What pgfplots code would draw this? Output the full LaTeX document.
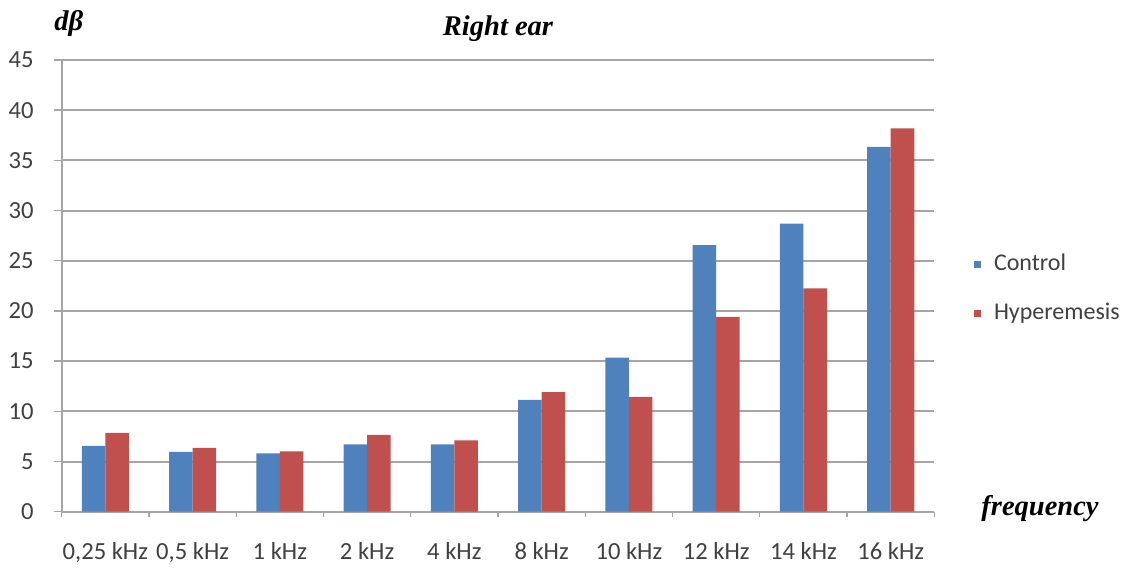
\documentclass[border=0pt]{standalone}
\usepackage{fontspec}
\setmainfont{Carlito}
\newfontfamily\titlefont{Liberation Serif}
\usepackage{pgfplots}
\pgfplotsset{compat=1.18}

\definecolor{ctrl}{RGB}{79,129,189}
\definecolor{hyper}{RGB}{192,80,77}
\definecolor{gridgray}{RGB}{165,165,165}
\definecolor{labgray}{RGB}{64,64,64}

\newcommand{\headfont}{\titlefont\bfseries\itshape\fontsize{14.25bp}{17bp}\selectfont}

\begin{document}
\begin{tikzpicture}
\useasboundingbox (-30.85bp,-28.65bp) rectangle (534.65bp,255.85bp);
\begin{axis}[
  at={(0,0)}, anchor=south west,
  scale only axis, width=436.3bp, height=225.85bp,
  ybar, bar width=0.27,
  ymin=0, ymax=45, ytick={0,5,...,45},
  xmin=-0.5, xmax=9.5,
  xtick={0,...,9},
  xticklabels={{0,25 kHz},{0,5 kHz},1 kHz,2 kHz,4 kHz,8 kHz,10 kHz,12 kHz,14 kHz,16 kHz},
  minor xtick={-0.5,0.5,...,9.5},
  axis x line*=bottom, axis y line*=left,
  axis line style={gridgray, line width=1bp},
  ymajorgrids, major grid style={gridgray, line width=1bp},
  tick align=outside,
  major tick length=4bp, minor tick length=2.5bp,
  tick style={gridgray, line width=0.7bp},
  major x tick style={draw=none},
  /pgf/number format/assume math mode=true,
  ticklabel style={font=\fontsize{12.3bp}{14bp}\selectfont, text=labgray, inner sep=0pt},
  xticklabel style={anchor=base, yshift=-20bp},
  yticklabel style={anchor=east, xshift=-9.85bp},
  title={Right ear},
  title style={font=\headfont, at={(0.5,1)}, anchor=base, yshift=6.5bp, inner sep=0pt},
  ylabel={dβ},
  ylabel style={font=\headfont, at={(axis description cs:0,1)}, rotate=-90, anchor=base, xshift=3.5bp, yshift=14.5bp, inner sep=0pt},
  xlabel={frequency},
  xlabel style={font=\headfont, at={(axis description cs:1,0)}, anchor=base, xshift=52.85bp, yshift=-1.65bp, inner sep=0pt},
  legend image code/.code={\fill[#1,draw=none] (0bp,-1.75bp) rectangle (3.5bp,1.75bp);},
  legend cell align=left,
  legend style={draw=none, fill=none, at={(1,0.4975)}, anchor=west, xshift=19.85bp, yshift=-1bp,
    inner sep=0pt, outer sep=0pt,
    font=\fontsize{12bp}{14bp}\selectfont, text=labgray, row sep=13.5bp, column sep=6.5bp,
    nodes={text height=8.5bp, text depth=2.5bp, inner sep=0pt}},
]
\addplot[fill=ctrl, draw=none, bar shift=-0.135] coordinates {
  (0,6.55) (1,5.95) (2,5.8) (3,6.7) (4,6.7) (5,11.15) (6,15.35) (7,26.55) (8,28.7) (9,36.35)};
\addplot[fill=hyper, draw=none, bar shift=0.135] coordinates {
  (0,7.85) (1,6.35) (2,6.0) (3,7.65) (4,7.1) (5,11.9) (6,11.45) (7,19.4) (8,22.25) (9,38.2)};
\legend{Control, Hyperemesis}
\end{axis}
\end{tikzpicture}
\end{document}
